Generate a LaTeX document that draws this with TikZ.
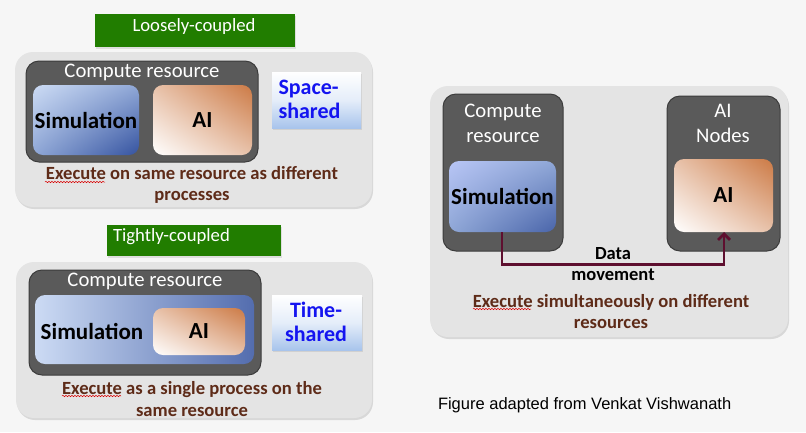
\documentclass[tikz,border=0pt]{standalone}
\usepackage{fontspec}
\setmainfont{Carlito}
\newfontfamily\arialfont{Liberation Sans}
\usetikzlibrary{shadows,shadings,arrows.meta,decorations.pathmorphing}
\definecolor{bgcol}{HTML}{F6F6F6}
\definecolor{panelgray}{HTML}{E4E4E4}
\definecolor{darkbox}{HTML}{5A5A5A}
\definecolor{darkedge}{HTML}{3C3C3C}
\definecolor{greenbox}{HTML}{217D00}
\definecolor{browntext}{HTML}{5E2B18}
\definecolor{bluetext}{HTML}{1414F0}
\definecolor{arrowcol}{HTML}{5E0F2F}
\definecolor{simlight}{HTML}{CCDBF4}
\definecolor{simmid}{HTML}{8FA7D6}
\definecolor{simdark}{HTML}{3553A0}
\definecolor{aiorange}{HTML}{CC7A45}
\definecolor{aimid}{HTML}{E8C2AA}
\definecolor{sharedblue}{HTML}{A8C4EC}
\begin{document}
\begin{tikzpicture}[x=1pt,y=-1pt,
  every node/.style={inner sep=0pt, outer sep=0pt},
  panel/.style={fill=panelgray, draw=none, rounded corners=18pt,
    drop shadow={opacity=0.25, shadow xshift=1pt, shadow yshift=-2pt}},
  greenlabel/.style={fill=greenbox, draw=none,
    drop shadow={opacity=0.2, shadow xshift=1pt, shadow yshift=-1.5pt}},
  greentext/.style={text=white, font=\fontsize{18.7}{22}\selectfont},
  darkres/.style={fill=darkbox, draw=darkedge, line width=1pt, rounded corners=13pt},
  restitle/.style={text=white, font=\fontsize{20.7}{25}\selectfont, align=center},
  simbox/.style={rounded corners=10pt, upper left=simlight, upper right=simmid,
    lower left=simmid, lower right=simdark,
    font=\bfseries\fontsize{23}{27}\selectfont},
  aibox/.style={rounded corners=10pt, upper left=aimid, upper right=aiorange,
    lower left=white, lower right=aimid,
    font=\bfseries\fontsize{23}{27}\selectfont},
  sharedbox/.style={top color=white, bottom color=sharedblue, middle color=white!70!sharedblue,
    drop shadow={opacity=0.2, shadow xshift=1pt, shadow yshift=-1.5pt}},
  sharedtext/.style={text=bluetext, font=\bfseries\fontsize{22}{24}\selectfont},
  exectext/.style={text=browntext, font=\bfseries\fontsize{18.6}{21.5}\selectfont, align=center},
  squiggle/.style={draw=red!85!black, line width=0.5pt,
    decorate, decoration={snake, amplitude=0.7pt, segment length=3pt}},
  datatext/.style={font=\bfseries\fontsize{18.5}{21}\selectfont, align=center}
]
\fill[bgcol] (0,0) rectangle (806,432);

% ---------------- Panel 1: loosely coupled
\node[greenlabel, minimum width=200pt, minimum height=33pt] (g1) at (195,30.5) {};
\node[greentext] (g1t) at (194,27) {Loosely-coupled};
\node[panel, minimum width=357pt, minimum height=155pt] (p1) at (193.5,129.5) {};
\node[darkres, minimum width=232pt, minimum height=101pt] (d1) at (142,111.5) {};
\node[restitle] (d1t) at (142,72) {Compute resource};
\node[simbox, minimum width=106pt, minimum height=70pt] (s1) at (86,120) {Simulation};
\node[aibox, minimum width=99pt, minimum height=70pt] (a1) at (202.5,120) {AI};
\node[sharedbox, minimum width=89pt, minimum height=56pt] (sp) at (316.5,100) {};
\node[sharedtext, align=left, anchor=west] (spt) at (278.5,99) {Space-\\shared};
\node[exectext] (e1) at (192,185) {Execute on same resource as different\\processes};
\draw[squiggle] (45,182) -- (105,182);

% ---------------- Panel 2: tightly coupled
\node[greenlabel, minimum width=174pt, minimum height=31pt] (g2) at (194,240.5) {};
\node[greentext, anchor=west] (g2t) at (113,237) {Tightly-coupled};
\node[panel, minimum width=356pt, minimum height=156pt] (p2) at (194,340) {};
\node[darkres, minimum width=232pt, minimum height=105pt] (d2) at (145,322.5) {};
\node[restitle] (d2t) at (145,281) {Compute resource};
\node[rounded corners=10pt, left color=simlight, right color=simdark!85!white,
  minimum width=219pt, minimum height=69pt] (s2) at (144.5,329.5) {};
\node[font=\bfseries\fontsize{23}{27}\selectfont] (s2t) at (92,331) {Simulation};
\node[aibox, minimum width=92pt, minimum height=47pt] (a2) at (199,331.5) {AI};
\node[sharedbox, minimum width=90pt, minimum height=55pt] (ts) at (317,322.5) {};
\node[sharedtext, align=center] (tst) at (316,322) {Time-\\shared};
\node[exectext] (e2) at (192,399) {Execute as a single process on the\\same resource};
\draw[squiggle] (62,396) -- (121,396);

% ---------------- Panel 3: separate resources
\node[panel, minimum width=358pt, minimum height=251pt] (p3) at (609,211.5) {};
\node[darkres, minimum width=120pt, minimum height=157pt] (dl) at (503,172.5) {};
\node[restitle] (dlt) at (503,123.5) {Compute\\resource};
\node[simbox, upper left=simlight!90!blue, lower right=simdark!90!white, minimum width=107pt, minimum height=71pt] (sl) at (502.5,196.5) {Simulation};
\node[darkres, minimum width=113pt, minimum height=155pt] (dr) at (723.5,173.5) {};
\node[restitle] (drt) at (723,123.5) {AI\\Nodes};
\node[aibox, minimum width=99pt, minimum height=73pt] (ar) at (723.5,195.5) {AI};
\coordinate (c1) at (502,264.5);
\coordinate (c2) at (724,264.5);
\draw[arrowcol, line width=2.8pt, line join=miter, -{Straight Barb[length=6pt, width=12pt, line width=2.8pt]}]
  (sl.south -| c1) -- (c1) -- (c2) -- (ar.south -| c2);
\node[datatext] (dm) at (613,264.5) {Data\\movement};
\node[exectext] (e3) at (611,311.5) {Execute simultaneously on different\\resources};
\draw[squiggle] (473,309) -- (531,309);

% ---------------- footer
\node[font=\arialfont\fontsize{16.5}{19}\selectfont, anchor=west] (ft) at (438,405) {Figure adapted from Venkat Vishwanath};
\end{tikzpicture}
\end{document}
